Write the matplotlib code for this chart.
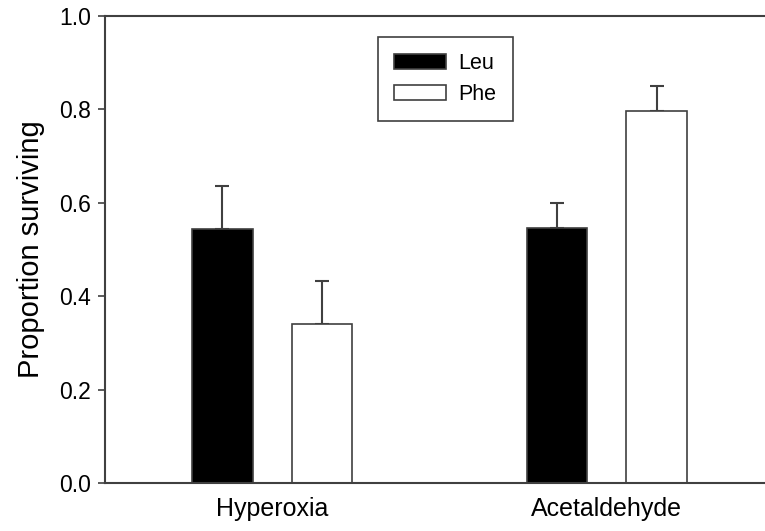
import matplotlib
matplotlib.use("Agg")
import matplotlib.pyplot as plt
import numpy as np

plt.rcParams['font.family'] = ['Liberation Sans', 'DejaVu Sans']

groups = ["Hyperoxia", "Acetaldehyde"]
leu_vals = [0.543, 0.547]
leu_err = [0.093, 0.053]
phe_vals = [0.340, 0.797]
phe_err = [0.092, 0.052]

edge = '#404040'

fig = plt.figure(figsize=(7.65, 5.31), dpi=100)
ax = fig.add_axes([0.1373, 0.0898, 0.8745, 0.8806])

x = np.arange(len(groups))
w = 0.181
off = 0.149

ax.bar(x - off, leu_vals, w, color='black', edgecolor=edge, linewidth=1.2,
       label='Leu', zorder=2)
ax.bar(x + off, phe_vals, w, color='white', edgecolor=edge, linewidth=1.2,
       label='Phe', zorder=2)
ax.errorbar(x - off, leu_vals, yerr=[np.zeros(2), leu_err], fmt='none',
            ecolor=edge, elinewidth=1.5, capsize=5, capthick=1.5, zorder=1)
ax.errorbar(x + off, phe_vals, yerr=[np.zeros(2), phe_err], fmt='none',
            ecolor=edge, elinewidth=1.5, capsize=5, capthick=1.5, zorder=1)

ax.set_xlim(-0.5, 1.5)
ax.set_ylim(0, 1.0)
ax.set_yticks([0.0, 0.2, 0.4, 0.6, 0.8, 1.0])
ax.set_yticklabels(['0.0', '0.2', '0.4', '0.6', '0.8', '1.0'])
ax.set_xticks(x)
ax.set_xticklabels(groups)
ax.tick_params(axis='y', direction='out', length=5, width=1.2, color=edge,
               labelsize=16.5, pad=5)
ax.tick_params(axis='x', length=0, labelsize=18, pad=10)
ax.set_ylabel('Proportion surviving', fontsize=21, labelpad=10)

for s in ['left', 'bottom', 'top', 'right']:
    ax.spines[s].set_color(edge)
    ax.spines[s].set_linewidth(1.5)

leg = ax.legend(loc='upper left', bbox_to_anchor=(378 / 765, 1 - 37 / 531),
                bbox_transform=fig.transFigure, fontsize=15.5, fancybox=False,
                edgecolor=edge, framealpha=1, handlelength=2.4,
                handleheight=0.68, labelspacing=0.45, borderpad=0.75,
                handletextpad=0.6, borderaxespad=0)
leg.get_frame().set_linewidth(1.2)

fig.savefig('out.png', dpi=100)
